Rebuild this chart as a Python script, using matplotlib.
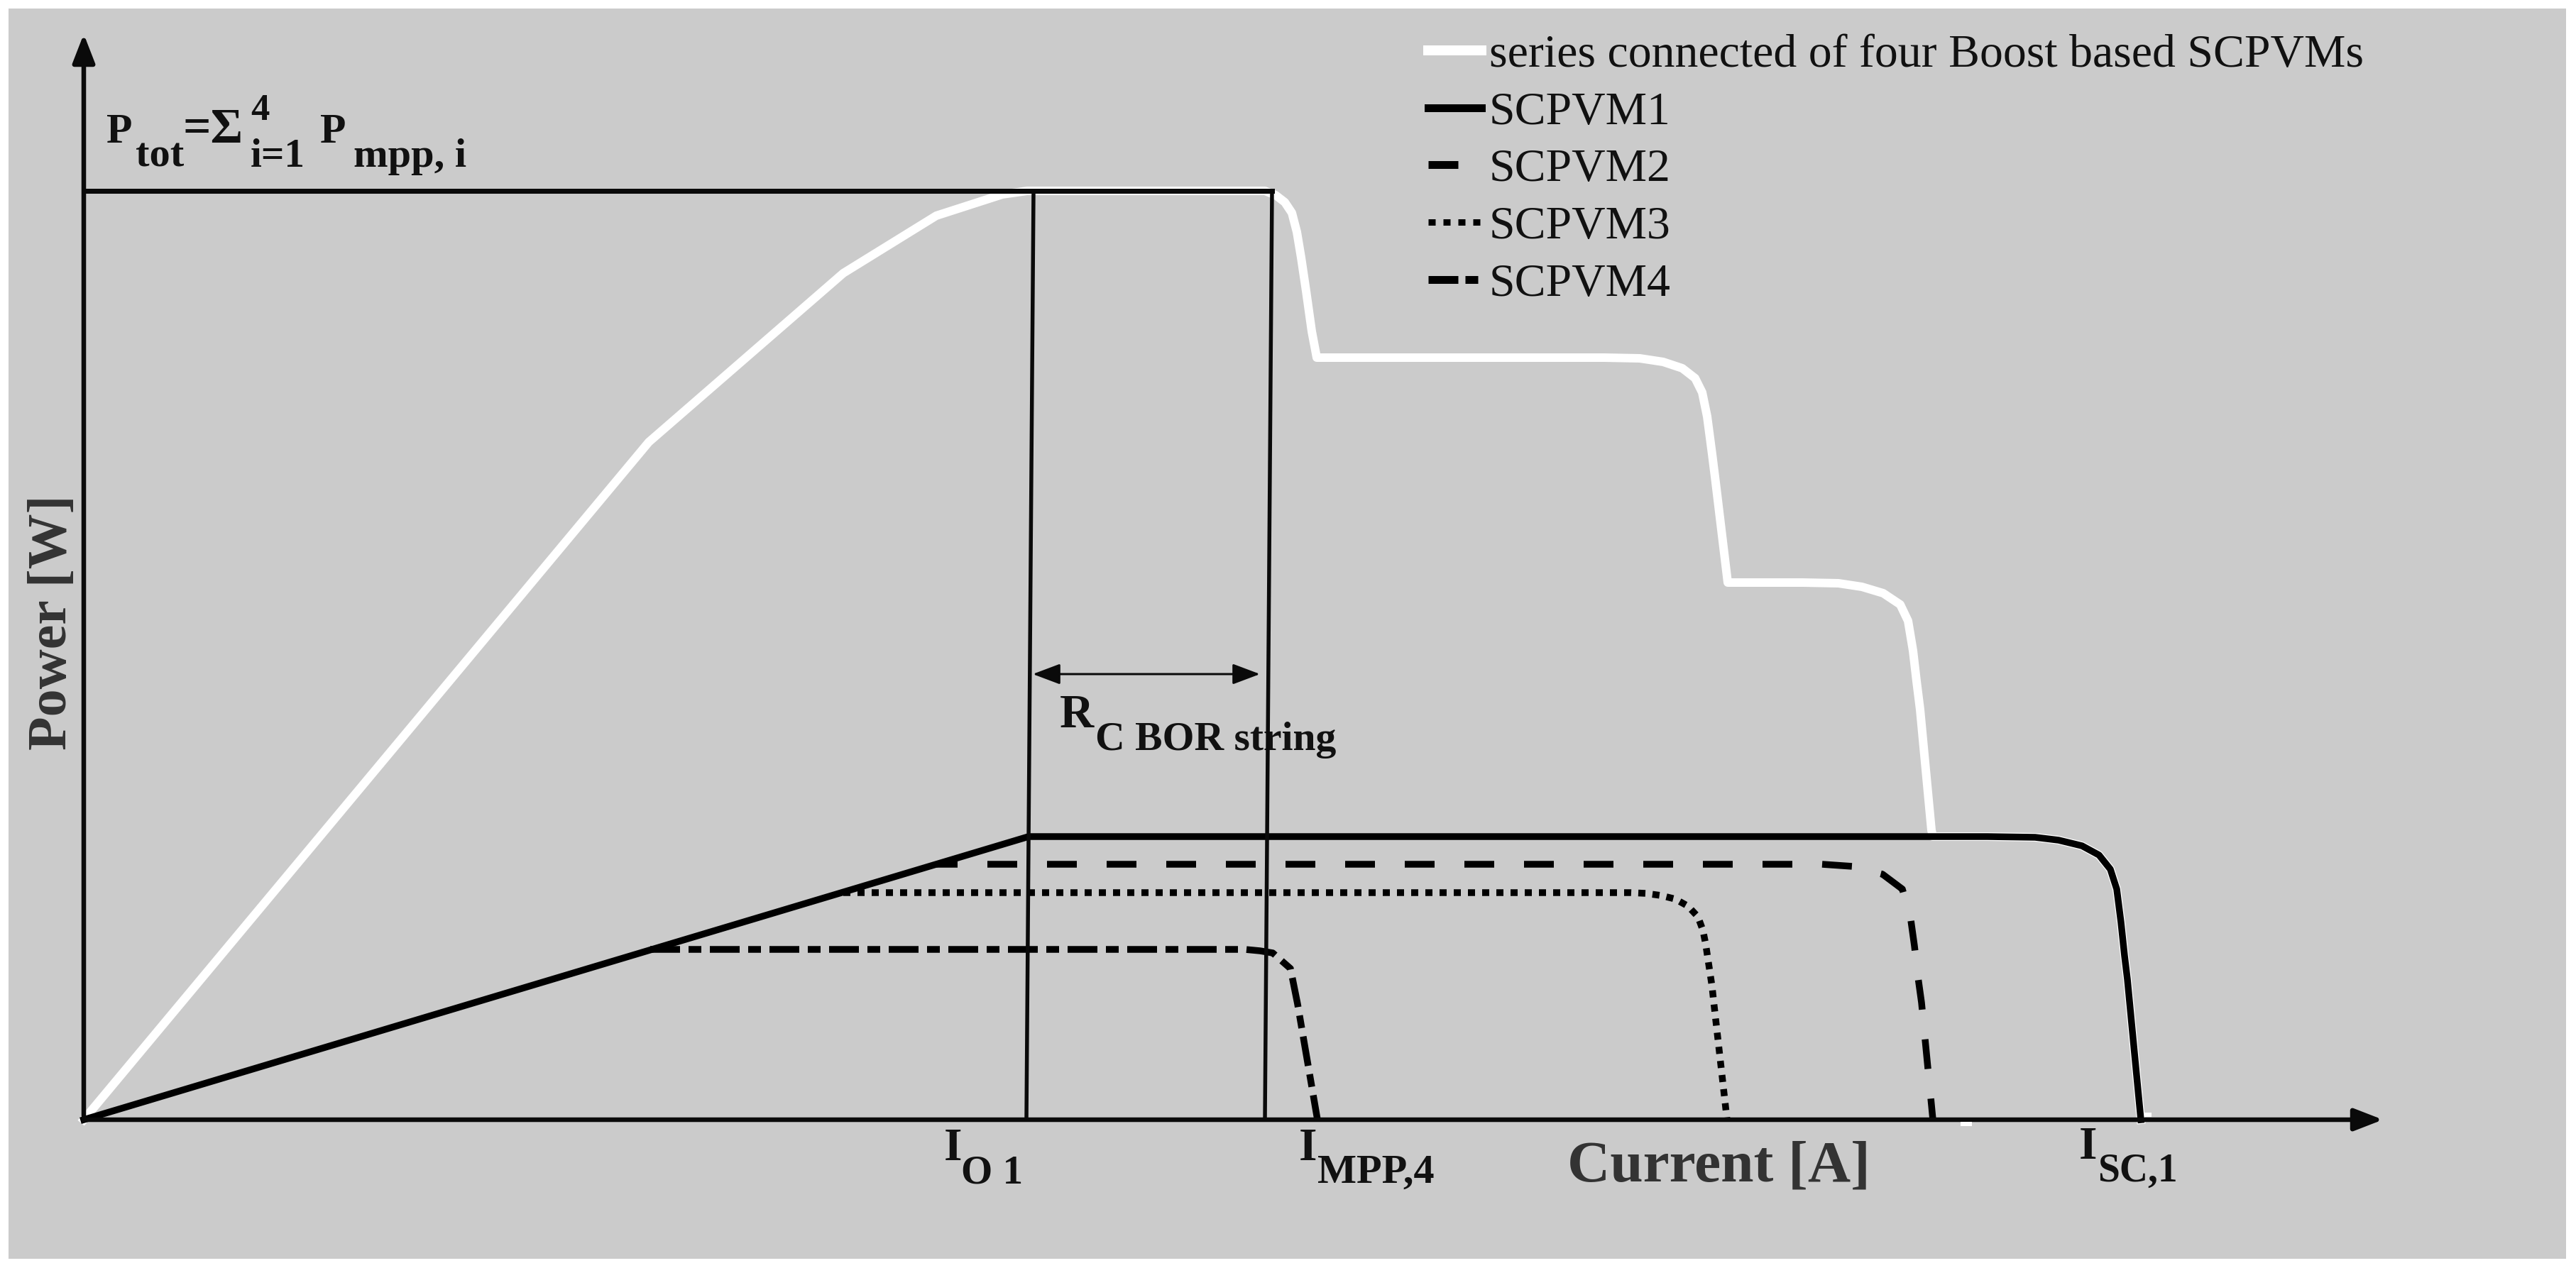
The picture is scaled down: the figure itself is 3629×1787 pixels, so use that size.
import matplotlib
matplotlib.use("Agg")
import matplotlib.pyplot as plt
from matplotlib.lines import Line2D
from matplotlib.patches import FancyArrowPatch

# ---- data (arbitrary units) ----
white_i = [0, 7.96, 10.70, 12.01, 12.94, 13.29, 16.64, 16.79, 16.92, 17.02, 17.09, 17.15, 17.22, 17.30, 17.37,
           21.42, 21.92, 22.25, 22.52, 22.70, 22.80, 22.87, 22.94, 22.99, 23.16,
           24.22, 24.72, 25.05, 25.35, 25.59, 25.70, 25.77, 25.82, 25.87, 26.03,
           26.05, 26.82, 27.49, 27.82, 28.15, 28.39, 28.55, 28.64, 28.70, 28.75, 28.79, 28.98]
white_p = [0, 9.55, 11.93, 12.74, 13.04, 13.09, 13.09, 13.03, 12.93, 12.78, 12.51, 12.15, 11.68, 11.11, 10.74,
           10.74, 10.73, 10.68, 10.59, 10.45, 10.25, 9.91, 9.38, 8.98, 7.57,
           7.57, 7.56, 7.51, 7.42, 7.26, 7.03, 6.61, 6.18, 5.78, 4.08,
           3.99, 3.99, 3.98, 3.94, 3.86, 3.73, 3.53, 3.25, 2.78, 2.31, 1.98, 0]
speck_i = [26.47, 26.57]
speck_p = [-0.06, -0.06]
speck2_i = [29.02, 29.10]
speck2_p = [0.07, 0.07]
s1_i = [0, 13.31, 26.82, 27.49, 27.82, 28.15, 28.39, 28.55, 28.64, 28.70, 28.75, 28.79, 28.98]
s1_p = [0, 3.99, 3.99, 3.98, 3.94, 3.86, 3.73, 3.53, 3.25, 2.78, 2.31, 1.98, 0]
s2_i = [12.01, 24.49, 24.92, 25.34, 25.62, 25.74, 25.79, 25.84, 25.89, 26.05]
s2_p = [3.60, 3.60, 3.57, 3.46, 3.25, 2.81, 2.45, 2.01, 1.65, 0]
s3_i = [10.7, 21.79, 22.00, 22.22, 22.42, 22.60, 22.74, 22.81, 22.85, 22.88, 22.94, 22.96, 23.15]
s3_p = [3.20, 3.20, 3.19, 3.16, 3.11, 3.01, 2.86, 2.67, 2.47, 2.27, 1.87, 1.68, 0]
s4_i = [7.98, 16.36, 16.57, 16.75, 17.0, 17.10, 17.38]
s4_p = [2.40, 2.40, 2.38, 2.35, 2.13, 1.63, 0]
ptot = 13.09
v1_i = [13.38, 13.28]
v2_i = [16.74, 16.64]
legend_labels = ["series connected of four Boost based SCPVMs", "SCPVM1", "SCPVM2", "SCPVM3", "SCPVM4"]

W, H = 3630, 1787
DPI = 100
PX = 72 / DPI          # points per pixel
X0, Y0 = 118, 1578     # origin of the sketch axes in figure pixels
U = 100                # pixels per data unit

plt.rcParams['font.family'] = ['Liberation Serif', 'DejaVu Serif']
fig = plt.figure(figsize=(W / DPI, H / DPI), dpi=DPI, facecolor='white')
fig.patches.append(plt.Rectangle((12 / W, 1 - 1774 / H), 3603 / W, 1762 / H, transform=fig.transFigure,
                                 facecolor='#cbcbcb', edgecolor='none', zorder=-1))
ax = fig.add_axes([0, 0, 1, 1])
ax.set_xlim(-X0 / U, (W - X0) / U)
ax.set_ylim((Y0 - H) / U, Y0 / U)
ax.axis('off')

def dx(px): return (px - X0) / U
def dy(py): return (Y0 - py) / U

LW = 9.5 * PX
# axes with arrowheads
for start, end in [((0, 0), (dx(3357), 0)), ((0, 0), (0, dy(48)))]:
    ax.add_patch(FancyArrowPatch(start, end, arrowstyle='-|>,head_length=1.75,head_width=0.68',
                                 mutation_scale=14, lw=6.5 * PX, color='#0a0a0a', shrinkA=0, shrinkB=0, zorder=6))

ax.plot(white_i, white_p, color='white', lw=12 * PX, solid_joinstyle='round', zorder=2)
ax.plot(speck_i, speck_p, color='white', lw=6 * PX, zorder=7)
ax.plot(speck2_i, speck2_p, color='white', lw=6 * PX, zorder=2)
u = 9.5
ax.plot(s4_i, s4_p, color='black', lw=LW, ls=(0, (42 / u, 12 / u, 18 / u, 12 / u)), dash_capstyle='butt', zorder=3)
ax.plot(s3_i, s3_p, color='black', lw=LW, ls=(0, (10 / u, 10 / u)), dash_capstyle='butt', zorder=3)
ax.plot(s2_i, s2_p, color='black', lw=LW, ls=(12 / u, (42 / u, 42 / u)), dash_capstyle='butt', zorder=3)
ax.plot(s1_i, s1_p, color='black', lw=LW, solid_joinstyle='round', zorder=4)

# construction lines
ax.plot([0, v2_i[0]], [ptot, ptot], color='#0a0a0a', lw=7 * PX, zorder=5)
ax.plot(v1_i, [ptot, 0], color='#0a0a0a', lw=5.5 * PX, zorder=5)
ax.plot(v2_i, [ptot, 0], color='#0a0a0a', lw=5.5 * PX, zorder=5)
ax.add_patch(FancyArrowPatch((dx(1455), dy(950)), (dx(1775), dy(950)), arrowstyle='<|-|>,head_length=1.7,head_width=0.64',
                             mutation_scale=14, lw=3 * PX, color='#0a0a0a', shrinkA=0, shrinkB=0, zorder=6))

# text helper: x = left pixel, y = baseline pixel
def T(px, py, s, size, weight='bold', color='#111111', **kw):
    ax.text(dx(px), dy(py), s, fontsize=size, fontweight=weight, color=color, ha='left', va='baseline', **kw)

T(150, 201, "P", 43); T(191, 235, "tot", 42); T(258, 201, "=Σ", 50); T(353, 169, "4", 38)
T(353, 235, "i=1", 41); T(451, 201, "P", 43); T(498, 235, "mpp, i", 42)
T(1330, 1635, "I", 47); T(1354, 1667, "O 1", 41)
T(1830, 1635, "I", 47); T(1856, 1667, "MPP,4", 42)
T(2929, 1633, "I", 47); T(2955, 1665, "SC,1", 40)
T(1493, 1025, "R", 48); T(1543, 1057, "C BOR string", 41.5)
T(2208, 1665, "Current [A]", 60, color='#333333')
ax.text(dx(93), dy(1057), "Power [W]", fontsize=56, fontweight='bold', color='#333333', rotation=90,
        ha='left', va='baseline', rotation_mode='anchor')

handles = [
    Line2D([], [], color='white', lw=14 * PX),
    Line2D([], [], color='black', lw=11 * PX),
    Line2D([], [], color='black', lw=11 * PX, ls=(0, (42 / 11, 42 / 11)), dash_capstyle='butt'),
    Line2D([], [], color='black', lw=9 * PX, ls=(0, (10 / 9, 11 / 9)), dash_capstyle='butt'),
    Line2D([], [], color='black', lw=11 * PX, ls=(0, (42 / 11, 10 / 11, 18 / 11, 10 / 11)), dash_capstyle='butt'),
]
leg = ax.legend(handles, legend_labels, loc='upper left', bbox_to_anchor=(2012 / W, 1 - 48 / H), frameon=False,
                fontsize=47.3, handlelength=1.14, handletextpad=0.167, labelspacing=0.315, borderpad=0, borderaxespad=0,
                labelcolor='#111111')
fig.savefig('out.png', dpi=DPI)
